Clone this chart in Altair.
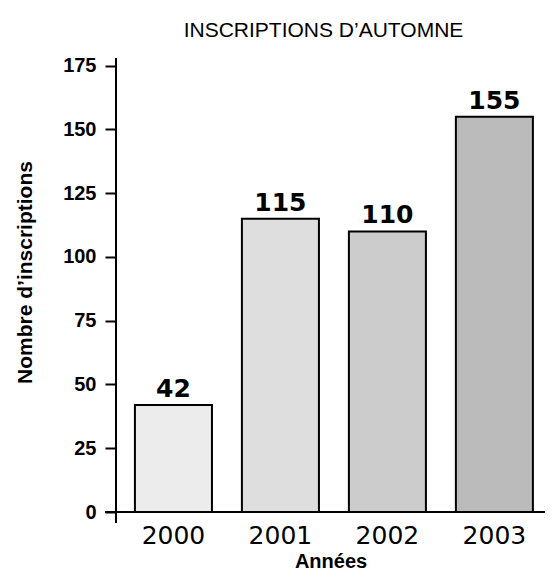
import altair as alt
import pandas as pd

years = ["2000", "2001", "2002", "2003"]
counts = [42, 115, 110, 155]
fills = ["#ececec", "#dedede", "#cccccc", "#bbbbbb"]
y_ticks = [0, 25, 50, 75, 100, 125, 150, 175]

df = pd.DataFrame({"year": years, "count": counts, "fill": fills})

W, H = 429, 454
SANS = "Liberation Sans, Arial, sans-serif"
ROUND = "DejaVu Sans, sans-serif"

x = alt.X("year:N", title="Années", sort=years,
          scale=alt.Scale(paddingInner=0.28, paddingOuter=0.145, align=0.61),
          axis=alt.Axis(labelAngle=0, domain=False, ticks=False,
                        labelFont=ROUND, labelFontSize=25, labelColor="#000",
                        labelPadding=11, titleFont=SANS, titleFontSize=20,
                        titleFontWeight="bold", titleColor="#000", titlePadding=3))
y = alt.Y("count:Q", title="Nombre d’inscriptions",
          scale=alt.Scale(domain=[0, 178], nice=False),
          axis=alt.Axis(values=y_ticks, domain=False, grid=False, tickSize=11,
                        tickWidth=2, tickColor="#000", labelFont=SANS,
                        labelFontSize=20, labelFontWeight="bold", labelColor="#000",
                        labelPadding=9, titleFont=SANS, titleFontSize=21,
                        titleFontWeight="bold", titleColor="#000",
                        titleX=-91, titleY=214, titleAngle=270,
                        titleBaseline="middle", titleAlign="center"))

bars = alt.Chart(df).mark_bar(stroke="#000", strokeWidth=2).encode(
    x=x, y=y, fill=alt.Fill("fill:N", scale=None))

labels = alt.Chart(df).mark_text(dy=-16, font=ROUND, fontWeight="bold",
                                 fontSize=25, color="#000").encode(
    x=alt.X("year:N", sort=years), y="count:Q", text="count:Q")

yline = alt.Chart(df).mark_rule(color="#000", strokeWidth=2).encode(
    x=alt.value(0), y=alt.value(0), y2=alt.value(H + 11))
xline = alt.Chart(df).mark_rule(color="#000", strokeWidth=2).encode(
    x=alt.value(-11), x2=alt.value(W), y=alt.value(H))

chart = alt.layer(bars, labels, yline, xline).properties(
    width=W, height=H,
    title=alt.TitleParams("INSCRIPTIONS D’AUTOMNE", font=SANS, fontSize=21,
                          fontWeight="normal", color="#000", offset=15, dx=-7),
    autosize=alt.AutoSizeParams(type="none"),
    padding={"left": 108, "top": 50, "right": 0, "bottom": 62},
).configure_view(stroke=None)

chart.save("out.html", embed_options={"renderer": "svg", "actions": False})
